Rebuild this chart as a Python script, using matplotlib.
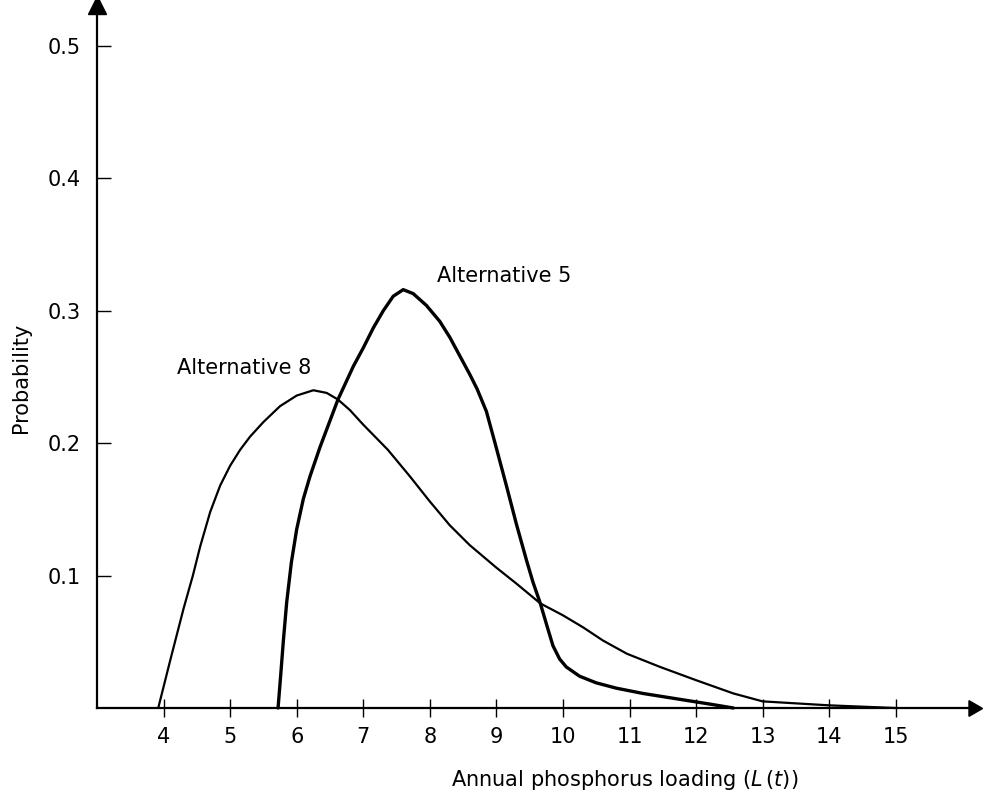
import matplotlib
matplotlib.use("Agg")
import matplotlib.pyplot as plt

plt.rcParams['font.family'] = ['DejaVu Sans']

# Alternative 8 (thin curve)
alt8_x = [3.92, 4.10, 4.30, 4.44, 4.55, 4.70, 4.85, 5.00, 5.15, 5.30, 5.50, 5.75, 6.00, 6.25, 6.45, 6.62,
          6.80, 7.00, 7.37, 7.70, 8.00, 8.30, 8.60, 9.00, 9.30, 9.66, 10.00, 10.30, 10.60, 10.96, 11.46,
          12.00, 12.56, 13.00, 14.00, 15.00]
alt8_y = [0.0, 0.036, 0.075, 0.100, 0.122, 0.148, 0.168, 0.183, 0.195, 0.205, 0.216, 0.228, 0.236, 0.240, 0.238, 0.233,
          0.225, 0.214, 0.195, 0.175, 0.156, 0.138, 0.123, 0.106, 0.094, 0.079, 0.070, 0.061, 0.051, 0.041, 0.031,
          0.021, 0.011, 0.005, 0.002, 0.0]

# Alternative 5 (thick curve)
alt5_x = [5.72, 5.76, 5.80, 5.85, 5.92, 6.00, 6.10, 6.20, 6.35, 6.50, 6.62, 6.85, 7.00, 7.15, 7.30, 7.45,
          7.60, 7.75, 7.95, 8.15, 8.30, 8.45, 8.60, 8.71, 8.85, 8.98, 9.15, 9.30, 9.45, 9.55, 9.66, 9.76,
          9.85, 9.95, 10.05, 10.25, 10.50, 10.80, 11.20, 11.70, 12.20, 12.56]
alt5_y = [0.0, 0.025, 0.051, 0.080, 0.110, 0.135, 0.158, 0.175, 0.197, 0.217, 0.233, 0.258, 0.272, 0.287, 0.300, 0.311,
          0.316, 0.313, 0.304, 0.292, 0.280, 0.266, 0.252, 0.241, 0.224, 0.200, 0.168, 0.139, 0.112, 0.095, 0.079, 0.062,
          0.047, 0.037, 0.031, 0.024, 0.019, 0.015, 0.011, 0.007, 0.003, 0.0]

x_ticks = [4, 5, 6, 7, 8, 9, 10, 11, 12, 13, 14, 15]
y_ticks = [0.1, 0.2, 0.3, 0.4, 0.5]
y_tick_labels = ["0.1", "0.2", "0.3", "0.4", "0.5"]

W, H = 985, 796
fig = plt.figure(figsize=(W / 100, H / 100), dpi=100)
left, right, bottom, top = 97, 973, 708, 5
ax = fig.add_axes([left / W, (H - bottom) / H, (right - left) / W, (bottom - top) / H])
ax.set_xlim(3.0, 16.16)
ax.set_ylim(0.0, 0.531)

for s in ("top", "right"):
    ax.spines[s].set_visible(False)
for s in ("left", "bottom"):
    ax.spines[s].set_linewidth(1.6)
    ax.spines[s].set_color("black")

# arrowheads
ax.plot(1, 0, marker=(3, 0, -90), markersize=13, color="black", transform=ax.transAxes, clip_on=False)
ax.plot(0, 1, marker="^", markersize=13, color="black", transform=ax.transAxes, clip_on=False)

ax.plot(alt8_x, alt8_y, color="black", lw=1.6, solid_capstyle="round", solid_joinstyle="round", clip_on=False)
ax.plot(alt5_x, alt5_y, color="black", lw=2.4, solid_capstyle="round", solid_joinstyle="round", clip_on=False)

ax.set_xticks(x_ticks)
ax.set_xticklabels([str(v) for v in x_ticks])
ax.set_yticks(y_ticks)
ax.set_yticklabels(y_tick_labels)
ax.tick_params(axis="x", direction="inout", length=13, width=1.0, pad=7, labelsize=15)
ax.tick_params(axis="y", direction="in", length=10, width=1.0, pad=12, labelsize=15)

ax.text(4.20, 0.257, "Alternative 8", fontsize=15, ha="left", va="center")
ax.text(8.11, 0.326, "Alternative 5", fontsize=15, ha="left", va="center")

fig.text(625 / W, 1 - 780 / H, r"Annual phosphorus loading ($\mathit{L}\,(\mathit{t})$)",
         fontsize=15, ha="center", va="center")
fig.text(21 / W, 1 - 378 / H, "Probability", fontsize=15, rotation=90, ha="center", va="center")

fig.savefig("out.png", dpi=100)
